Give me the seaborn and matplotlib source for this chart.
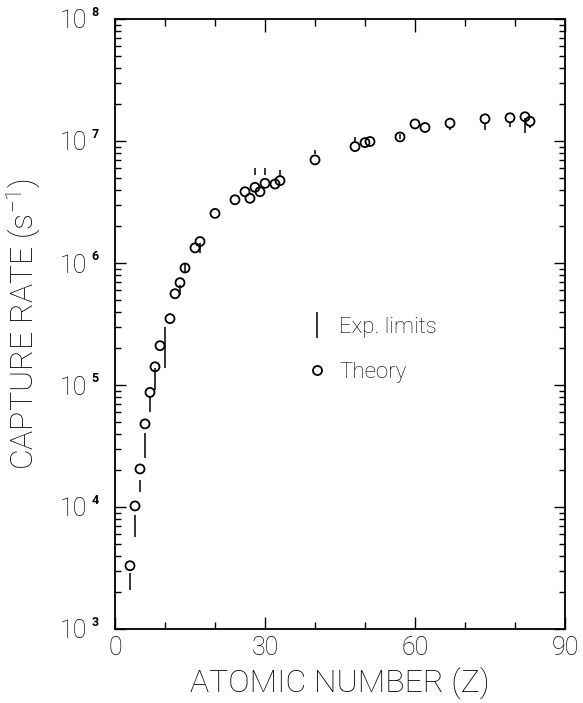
import matplotlib
matplotlib.use("Agg")
import matplotlib.pyplot as plt
import numpy as np
import pandas as pd
import seaborn as sns
from matplotlib.lines import Line2D
from matplotlib.ticker import FixedLocator, NullFormatter, LogLocator

# Theoretical total muon capture rates (s^-1) versus atomic number
theory_z = [3, 4, 5, 6, 7, 8, 9, 11, 12, 13, 14, 16, 17, 20, 24,
            26, 27, 28, 29, 30, 32, 33, 40, 48, 50, 51, 57, 60, 62,
            67, 74, 79, 82, 83]
theory_rate = [3.3e3, 1.02e4, 2.05e4, 4.8e4, 8.7e4, 1.41e5, 2.1e5, 3.5e5,
               5.6e5, 6.9e5, 9.1e5, 1.33e6, 1.5e6, 2.55e6, 3.3e6,
               3.84e6, 3.39e6, 4.17e6, 3.84e6, 4.5e6, 4.44e6, 4.73e6,
               7.0e6, 9.0e6, 9.7e6, 9.9e6, 1.08e7, 1.38e7, 1.29e7,
               1.40e7, 1.52e7, 1.55e7, 1.58e7, 1.45e7]

# Experimental limits (lower, upper) in s^-1
exp_z = [3, 4, 5, 6, 7, 8, 10, 13, 14, 17, 28, 30, 33, 40, 48, 57,
         67, 74, 79, 82, 83]
exp_lo = [2.09e3, 5.7e3, 1.33e4, 2.52e4, 6.0e4, 9.1e4, 1.38e5, 5.47e5,
          8.3e5, 1.21e6, 5.26e6, 5.26e6, 5.07e6, 7.8e6, 9.8e6, 1.04e7,
          1.23e7, 1.23e7, 1.30e7, 1.16e7, 1.28e7]
exp_hi = [2.88e3, 8.6e3, 1.66e4, 4.04e4, 7.97e4, 1.38e5, 2.98e5, 6.6e5,
          1.0e6, 1.46e6, 6.0e6, 6.0e6, 5.78e6, 8.4e6, 1.08e7, 1.14e7,
          1.30e7, 1.41e7, 1.41e7, 1.55e7, 1.35e7]

x_major = [0, 30, 60, 90]
x_minor = [10, 20, 40, 50, 70, 80]
y_exponents = [3, 4, 5, 6, 7, 8]

theory = pd.DataFrame({"Z": theory_z, "rate": theory_rate})

sns.set_theme(style="ticks")
plt.rcParams["font.family"] = ["Roboto", "DejaVu Sans"]
plt.rcParams["font.weight"] = "light"
plt.rcParams["text.color"] = "black"
plt.rcParams["axes.labelcolor"] = "black"
plt.rcParams["xtick.color"] = "black"
plt.rcParams["ytick.color"] = "black"
plt.rcParams["mathtext.fontset"] = "custom"
plt.rcParams["mathtext.rm"] = "Roboto:light"
plt.rcParams["mathtext.default"] = "rm"

fig = plt.figure(figsize=(5.83, 7.03), dpi=100)
ax = fig.add_axes([115 / 583, 1 - 629 / 703, 450 / 583, 610 / 703])

ax.set_yscale("log")
ax.vlines(exp_z, exp_lo, exp_hi, color="black", linewidth=1.1)
sns.scatterplot(data=theory, x="Z", y="rate", ax=ax, marker="o",
                s=42, facecolor="none", edgecolor="black", linewidth=1.3,
                zorder=3, legend=False)

ax.set_xlim(0, 90)
ax.set_ylim(1e3, 1e8)

ax.xaxis.set_major_locator(FixedLocator(x_major))
ax.xaxis.set_minor_locator(FixedLocator(x_minor))
ax.set_xticklabels([str(v) for v in x_major], fontsize=18, fontweight="light")
ax.yaxis.set_major_locator(FixedLocator([10.0 ** e for e in y_exponents]))
ax.yaxis.set_minor_locator(LogLocator(base=10, subs=np.arange(2, 10)))
ax.yaxis.set_minor_formatter(NullFormatter())
ax.set_yticklabels(["10"] * len(y_exponents), fontsize=18, fontweight="light")

ax.tick_params(axis="both", which="both", direction="in", top=True,
               right=True, color="black", width=1.0)
ax.tick_params(axis="x", which="major", length=9, pad=5)
ax.tick_params(axis="x", which="minor", length=5)
ax.tick_params(axis="y", which="major", length=8, pad=20)
ax.tick_params(axis="y", which="minor", length=4)

# small exponents beside each "10"
ytrans = ax.get_yaxis_transform()
for e in y_exponents:
    ax.text(-0.052, 10.0 ** e, str(e), transform=ytrans, fontsize=9,
            fontweight="bold", ha="left", va="bottom", clip_on=False)

for side in ax.spines.values():
    side.set_linewidth(1.3)
    side.set_color("black")

ax.set_xlabel("ATOMIC NUMBER (Z)", fontsize=23, fontweight="light",
              labelpad=5)
ax.set_ylabel("CAPTURE RATE (s$^{-1}$)", fontsize=23, fontweight="light",
              labelpad=12)

handles = [
    Line2D([], [], color="black", marker="|", linestyle="none",
           markersize=19, markeredgewidth=1.1),
    Line2D([], [], color="black", marker="o", linestyle="none",
           markersize=6.5, markerfacecolor="none", markeredgewidth=1.3),
]
ax.legend(handles, ["Exp. limits", "Theory"], loc="upper left",
          bbox_to_anchor=(0.38, 0.545), frameon=False,
          prop={"weight": "light", "size": 16},
          handletextpad=0.5, labelspacing=1.1, handlelength=1.0)

fig.savefig("out.png", dpi=100)
